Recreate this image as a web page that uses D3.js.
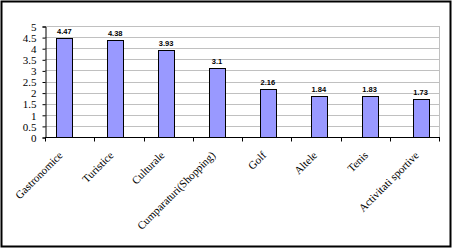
<!DOCTYPE html>
<html>
<head>
<meta charset="utf-8">
<script src="https://cdn.jsdelivr.net/npm/d3@7"></script>
<style>
  body { margin: 0; background: #fff; }
  svg { display: block; }
</style>
</head>
<body>
<svg></svg>
<script>
// categories and values
const categories = ["Gastronomice", "Turistice", "Culturale", "Cumparaturi(Shopping)",
                    "Golf", "Altele", "Tenis", "Activitati sportive"];
const values = [4.47, 4.38, 3.93, 3.1, 2.16, 1.84, 1.83, 1.73];
const valueLabels = ["4.47", "4.38", "3.93", "3.1", "2.16", "1.84", "1.83", "1.73"];
const yTicks = [0, 0.5, 1, 1.5, 2, 2.5, 3, 3.5, 4, 4.5, 5];

const W = 457, H = 249;
const svg = d3.select("svg").attr("width", W).attr("height", H);

// outer frame
svg.append("rect")
  .attr("x", 1.5).attr("y", 1.5)
  .attr("width", 449).attr("height", 245)
  .attr("fill", "#fff").attr("stroke", "#000").attr("stroke-width", 2);

const plot = { left: 45, right: 439, top: 26, bottom: 137 };

const y = d3.scaleLinear().domain([0, 5]).range([plot.bottom, plot.top]);

// category axis (boundaries)
const xAxisScale = d3.scaleBand().domain(categories).range([plot.left, plot.right]);
// bars are drawn a bit off the axis grid, as in the picture
const xBars = d3.scaleBand().domain(categories).range([38.85, 446]);
const barW = 16;

// gridlines
svg.append("g")
  .selectAll("line")
  .data(yTicks.slice(1))
  .enter()
  .append("line")
  .attr("x1", plot.left).attr("x2", plot.right)
  .attr("y1", d => Math.round(y(d)) + 0.5).attr("y2", d => Math.round(y(d)) + 0.5)
  .attr("stroke", "#c0c0c0");

// right plot border
svg.append("line")
  .attr("x1", plot.right + 0.5).attr("x2", plot.right + 0.5)
  .attr("y1", plot.top).attr("y2", plot.bottom)
  .attr("stroke", "#c0c0c0");

// y axis
const yAxis = svg.append("g")
  .attr("transform", `translate(${plot.left + 0.5},0.5)`)
  .call(d3.axisLeft(y).tickValues(yTicks).tickSize(3).tickPadding(6).tickFormat(d => String(d)));
yAxis.selectAll("text")
  .attr("font-family", "Liberation Serif")
  .attr("font-size", 11)
  .attr("dy", "0.34em")
  .attr("fill", "#000");
yAxis.selectAll("line").attr("stroke", "#000");
yAxis.select(".domain").attr("stroke", "#000");

// x axis ticks at category boundaries
const xAxis = svg.append("g")
  .attr("transform", `translate(0,${plot.bottom + 0.5})`);
xAxis.append("line")
  .attr("x1", plot.left).attr("x2", plot.right + 1)
  .attr("stroke", "#000");
xAxis.selectAll("line.tk")
  .data(categories.concat(["end"]))
  .enter()
  .append("line")
  .attr("class", "tk")
  .attr("x1", (d, i) => Math.round(plot.left + i * xAxisScale.step()) + 0.5)
  .attr("x2", (d, i) => Math.round(plot.left + i * xAxisScale.step()) + 0.5)
  .attr("y1", 0).attr("y2", 4)
  .attr("stroke", "#000");

// bars
svg.selectAll("rect.bar")
  .data(values)
  .enter()
  .append("rect")
  .attr("class", "bar")
  .attr("x", (d, i) => Math.round(xBars(categories[i]) + xBars.bandwidth() / 2 - barW / 2) + 0.5)
  .attr("y", d => Math.round(y(d)) + 0.5)
  .attr("width", barW)
  .attr("height", d => Math.round(plot.bottom - y(d)))
  .attr("fill", "#9999ff")
  .attr("stroke", "#000")
  .attr("stroke-width", 1);

// value labels
svg.selectAll("text.val")
  .data(values)
  .enter()
  .append("text")
  .attr("class", "val")
  .attr("x", (d, i) => xBars(categories[i]) + xBars.bandwidth() / 2)
  .attr("y", d => y(d) - 4)
  .attr("text-anchor", "middle")
  .attr("font-family", "Liberation Sans")
  .attr("font-weight", "bold")
  .attr("font-size", 7.5)
  .text((d, i) => valueLabels[i]);

// category labels
svg.selectAll("text.cat")
  .data(categories)
  .enter()
  .append("text")
  .attr("class", "cat")
  .attr("transform", d => `translate(${xBars(d) + xBars.bandwidth() / 2 - 1},${plot.bottom + 19}) rotate(-45)`)
  .attr("text-anchor", "end")
  .attr("font-family", "Liberation Serif")
  .attr("font-size", 11)
  .text(d => d);
</script>
</body>
</html>
